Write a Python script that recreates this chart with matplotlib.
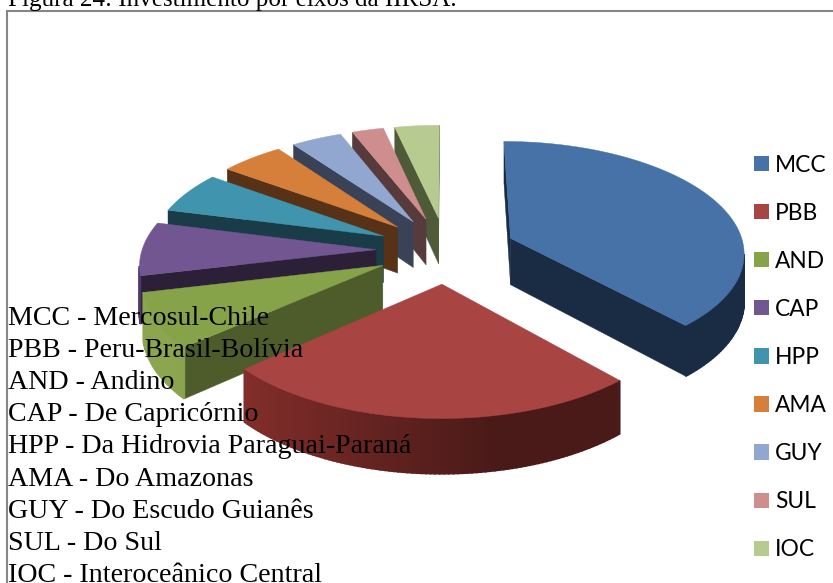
import numpy as np
import matplotlib
matplotlib.use("Agg")
import matplotlib.pyplot as plt
from matplotlib.patches import Patch, Polygon, Rectangle

# Investment share per IIRSA axis (percent)
eixos = ["MCC", "PBB", "AND", "CAP", "HPP", "AMA", "GUY", "SUL", "IOC"]
valores = [38.3, 25.2, 7.8, 7.7, 6, 5, 4, 2.5, 3.5]
top_cores = ["#4672a8", "#a84442", "#87a34a", "#715691", "#4094ae",
             "#d67f3a", "#92a7cf", "#cd8e8d", "#b7cb91"]
lado_cores = ["#1a2c44", "#4a1a18", "#4e5c2c", "#2c2038", "#1a3c48",
              "#583216", "#3a4258", "#563a3c", "#4e5a38"]
nomes = [
    "MCC - Mercosul-Chile",
    "PBB - Peru-Brasil-Bolívia",
    "AND - Andino",
    "CAP - De Capricórnio",
    "HPP - Da Hidrovia Paraguai-Paraná",
    "AMA - Do Amazonas",
    "GUY - Do Escudo Guianês",
    "SUL - Do Sul",
    "IOC - Interoceânico Central",
]

# Pie geometry, in pixels of the 833x583 canvas
CX, CY = 446, 250
RAIO = 234
EXPLODE = 70
TILT = 0.472
ALTURA = 47
PERSP = 0.00049


def projeta(x, y, z=0.0):
    s = 1 / (1 - PERSP * y)
    return CX + x * s, CY + (TILT * y + z) * s


def clareia(cor, f):
    return tuple(min(c * f, 1) for c in matplotlib.colors.to_rgb(cor))


def area(pts):
    xs, ys = np.array(pts).T
    return 0.5 * np.sum(xs * np.roll(ys, -1) - np.roll(xs, -1) * ys)


fig = plt.figure(figsize=(8.33, 5.83), dpi=100)
ax = fig.add_axes([0, 0, 1, 1])
ax.set_xlim(0, 833)
ax.set_ylim(583, 0)
ax.axis("off")

ax.add_patch(Rectangle((7, 11), 840, 600, fc="white", ec="#868686", lw=1.5, zorder=0))

# Build the wedges clockwise from the top
fim = np.cumsum(valores) / np.sum(valores) * 2 * np.pi
inicio = np.concatenate([[0], fim[:-1]])
fatias = []
for i in range(len(valores)):
    meio = (inicio[i] + fim[i]) / 2
    ox, oy = EXPLODE * np.sin(meio), -EXPLODE * np.cos(meio)
    th = np.linspace(inicio[i], fim[i], max(8, int((fim[i] - inicio[i]) * 60)))
    xs = ox + RAIO * np.sin(th)
    ys = oy - RAIO * np.cos(th)
    fatias.append((oy - RAIO * np.cos(meio) * 0.6, i, th, ox, oy, xs, ys))

# Painter's order: back wedges first
z = 1
for _, i, th, ox, oy, xs, ys in sorted(fatias, key=lambda f: f[0]):
    cor = top_cores[i]
    lado = lado_cores[i]
    topo = [projeta(x, y) for x, y in zip(xs, ys)]
    apex = projeta(ox, oy)
    apex_b = projeta(ox, oy, ALTURA)

    # Radial side walls, culling the ones turned away from the viewer
    for k, sinal in ((0, -1), (-1, 1)):
        a = projeta(xs[k], ys[k])
        b = projeta(xs[k], ys[k], ALTURA)
        parede = [apex, a, b, apex_b]
        if area(parede) * sinal > 0:
            ax.add_patch(Polygon(parede, fc=lado, ec=lado, lw=0.3, zorder=z))
            z += 1

    # Outer wall, lighter towards the left
    for j in range(len(th) - 1):
        q = [projeta(xs[j], ys[j]), projeta(xs[j + 1], ys[j + 1]),
             projeta(xs[j + 1], ys[j + 1], ALTURA), projeta(xs[j], ys[j], ALTURA)]
        if area(q) < 0:
            f = 1 + 0.8 * np.clip(0.2 - np.sin(th[j]), 0, 1)
            c = clareia(lado, f)
            ax.add_patch(Polygon(q, fc=c, ec=c, lw=1.2, zorder=z))
            z += 1

    ax.add_patch(Polygon([apex] + topo, fc=cor, ec=cor, lw=0.3, zorder=z))
    z += 1

fig.text(8 / 833, 1 - 6 / 583, "Figura 24: Investimento por eixos da IIRSA.",
         family="Liberation Serif", fontsize=18.1, va="baseline", color="black")

# Axis names typed over the pie
for n, nome in enumerate(nomes):
    ax.text(8, 325 + n * 32.1, nome, family="Liberation Serif", fontsize=20.15,
            va="baseline", color="black", zorder=1000)

handles = [Patch(fc=c, ec=c, lw=0) for c in top_cores]
leg = ax.legend(handles, eixos, loc="upper left", bbox_to_anchor=(754 / 833, 1 - 154.5 / 583),
                frameon=False, prop={"family": "Lato", "size": 16.4}, labelspacing=1.19,
                handlelength=0.66, handleheight=0.66, handletextpad=0.27, borderpad=0, borderaxespad=0)
leg.set_zorder(1000)

fig.savefig("out.png", dpi=100)
